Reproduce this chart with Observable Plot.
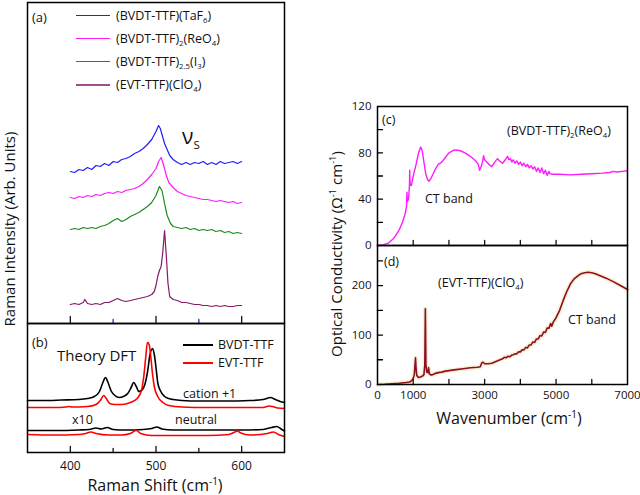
<!DOCTYPE html>
<html>
<head>
<meta charset="utf-8">
<script src="https://cdn.jsdelivr.net/npm/d3@7"></script>
<script src="https://cdn.jsdelivr.net/npm/@observablehq/plot@0.6"></script>
<style>
  body { margin: 0; background: #fff; }
  #fig { position: relative; width: 640px; height: 495px; background: #fff; font-family: "Open Sans", sans-serif; color: #111; overflow: hidden; }
  .pl { position: absolute; }
  .t { position: absolute; white-space: nowrap; line-height: 1; transform: translateY(-50%); }
  .rot { position: absolute; white-space: nowrap; line-height: 1; transform: translate(-50%, -50%) rotate(-90deg); }
  .ctr { position: absolute; white-space: nowrap; line-height: 1; transform: translate(-50%, -50%); }
  sub, sup { font-size: 0.62em; line-height: 0; position: relative; vertical-align: baseline; }
  sub { top: 0.35em; }
  sup { top: -0.6em; }
  .lline { position: absolute; height: 0; border-top-style: solid; }
</style>
</head>
<body>
<div id="fig"></div>
<script>
// ---------- Panel (a): Raman spectra (arbitrary units, stacked) ----------
const bvdtTaF6 = [[400,152],[405,151],[410,154],[415,153],[420,156],[425,154],[430,158],[435,157],[440,160],[445,158],[450,162],[455,161],[460,164],[465,165],[470,167],[475,170],[480,172],[485,175],[490,179],[495,184],[500,192],[503,198],[505,195],[508,186],[510,180],[513,174],[516,168],[520,164],[525,161],[530,159],[535,161],[540,159],[545,161],[550,160],[555,162],[560,159],[565,161],[570,159],[575,162],[580,160],[585,161],[590,162],[595,160],[600,162]];
const bvdtReO4 = [[400,126],[405,125],[410,127],[415,126],[420,128],[425,127],[430,129],[435,128],[440,130],[445,131],[450,130],[455,132],[460,131],[465,133],[470,134],[475,135],[480,137],[485,140],[490,144],[495,149],[500,155],[503,162],[506,166],[509,158],[512,148],[515,141],[520,136],[525,132],[530,130],[535,128],[540,127],[545,126],[550,125],[555,124],[560,124],[565,123],[570,122],[575,123],[580,122],[585,121],[590,122],[595,120],[600,121]];
const bvdtI3 = [[400,94],[405,95],[410,94],[415,96],[420,95],[425,96],[430,95],[435,97],[440,98],[445,100],[450,103],[455,105],[460,102],[465,104],[470,107],[475,109],[480,111],[485,114],[490,117],[495,121],[500,128],[504,137],[507,133],[510,120],[513,108],[517,100],[520,97],[525,96],[530,95],[535,96],[540,94],[545,95],[550,93],[555,94],[560,93],[565,94],[570,92],[575,93],[580,91],[585,92],[590,90],[595,91],[600,90]];
const evtClO4 = [[400,19],[405,20],[410,19],[415,21],[417,24],[420,20],[425,19],[430,20],[435,19],[440,21],[445,21],[450,23],[455,25],[460,23],[465,22],[470,23],[475,24],[480,25],[485,26],[490,27],[495,29],[498,32],[500,38],[502,47],[504,53],[506,57],[508,72],[510,93],[512,68],[514,40],[516,27],[520,24],[525,23],[530,21],[535,21],[540,20],[545,19],[550,19],[555,18],[560,18],[565,17],[570,18],[575,17],[580,18],[585,17],[590,17],[595,18],[600,18]];

// ---------- Panel (b): DFT Raman (arbitrary units, stacked) ----------
const bvdtCation = [[350,52],[370,52],[390,52.5],[410,53],[420,54],[428,56],[434,61],[438,70],[441,75],[444,70],[448,61],[452,57],[457,55],[462,56],[467,59],[471,65],[474,70],[477,66],[480,61],[483,62],[487,68],[490,80],[493,98],[496,104],[498,98],[500,85],[502,70],[505,62],[510,56],[515,54],[520,53],[530,52],[550,51.5],[580,51.5],[610,52],[625,53],[631,54.5],[634,55],[638,53.5],[645,51],[650,50]];
const evtCation = [[350,45],[380,45],[395,45.5],[398,46],[402,45.5],[420,46],[430,48],[435,52],[439,57],[442,54],[446,49],[452,48],[460,48],[470,50],[478,54],[483,62],[486,78],[488,95],[490,110],[492,108],[494,95],[496,78],[498,66],[502,56],[508,50],[515,47],[530,45.5],[560,45],[600,45],[625,45],[632,46.5],[636,46],[642,44.5],[650,44]];
const bvdtNeutral = [[350,22],[380,22],[410,22.5],[422,23],[430,24.5],[436,23.5],[443,25],[450,23],[465,22.5],[485,23],[495,24],[501,25.5],[507,23.5],[520,22.5],[560,22.5],[600,22.5],[625,23],[635,25],[641,26],[646,23.5],[650,21.5]];
const evtNeutral = [[350,18],[380,17.5],[410,18],[418,19],[424,20.5],[430,19],[445,17.5],[460,17.5],[470,19],[477,22],[482,19],[495,17],[520,17],[560,17],[585,18],[592,20.5],[595,21.5],[599,19.5],[610,17.5],[630,19],[637,20.5],[643,18],[650,16]];

// ---------- Panel (c): optical conductivity (BVDT-TTF)2(ReO4) ----------
const condReO4 = [[0,0],[150,0.5],[300,2],[450,6],[600,13],[700,20],[780,28],[812,34],[825,46],[838,38],[870,40],[895,52],[902,65],[915,52],[950,52],[1000,60],[1080,70],[1150,80],[1210,85],[1250,82],[1300,72],[1350,62],[1400,57],[1440,55.5],[1500,58],[1560,62],[1620,66],[1700,70],[1800,72],[1900,76],[2000,80],[2150,82.5],[2300,82],[2450,80],[2600,77],[2750,73],[2820,70],[2860,65],[2900,68],[2940,72],[2970,77.5],[3000,74],[3060,72],[3120,70],[3200,68],[3280,72],[3360,75],[3420,73],[3500,71],[3580,74],[3640,77],[3680,74],[3720,75],[3760,72],[3800,74],[3850,71],[3900,73],[3950,70],[4000,72],[4050,69],[4100,71],[4150,68],[4200,70],[4250,67],[4300,69],[4350,66],[4400,68],[4450,64],[4500,67],[4550,63],[4600,67],[4650,62],[4700,65],[4750,60.5],[4800,64],[4830,62],[4900,61.5],[5100,61.5],[5400,61],[5700,61.5],[6000,62],[6300,62.5],[6500,63],[6600,64],[6700,63.5],[6850,64],[7000,64.5]];

// ---------- Panel (d): optical conductivity (EVT-TTF)(ClO4) ----------
const condClO4 = [[0,0],[200,0.5],[400,1.5],[600,2.5],[800,4],[900,5],[960,8],[1000,12],[1030,20],[1050,40],[1064,54],[1080,32],[1100,18],[1150,14],[1200,15],[1260,17],[1300,20],[1325,40],[1340,153],[1355,40],[1380,25],[1410,24],[1430,34],[1450,22],[1500,19],[1550,20],[1600,22],[1700,24],[1800,25],[1900,27],[2000,28],[2200,30],[2400,32],[2600,34],[2800,35],[2880,36],[2920,44],[2960,45],[3000,42],[3100,42],[3200,43],[3300,46],[3400,49],[3500,52],[3550,55],[3600,54],[3650,57],[3700,56],[3750,59],[3800,60],[3850,62],[3900,62],[3950,66],[4000,66],[4050,70],[4100,70],[4150,75],[4200,74],[4250,80],[4300,80],[4350,86],[4400,85],[4450,92],[4500,92],[4550,99],[4600,98],[4650,106],[4700,105],[4750,114],[4800,114],[4850,123],[4880,118],[4920,126],[5000,135],[5100,150],[5200,170],[5300,188],[5400,203],[5500,213],[5600,219],[5700,224],[5800,226],[5900,227],[6000,226],[6100,224],[6200,221],[6400,215],[6600,208],[6800,200],[7000,192]];

// ---------- Tick values ----------
const ramanTicksMajor = [400, 500, 600];
const ramanTicksMinor = [450, 550];
const ramanTickLabels = [400, 500, 600];
const wnTicks = [1000, 2000, 3000, 4000, 5000, 6000];
const wnTickLabels = [0, 1000, 3000, 5000, 7000];
const cTicks = [20, 40, 60, 80, 100];
const cTickLabels = [0, 40, 80, 120];
const dTicks = [50, 100, 150, 200, 250];
const dTickLabels = [0, 100, 200];

// ---------- helpers ----------
const tickShape = {draw(ctx, l) { ctx.moveTo(0, 0); ctx.lineTo(0, -l); }};
const px = d => d[0], py = d => d[1];
const plain = d => String(d);
const baseStyle = {background: "transparent", overflow: "visible", fontFamily: "Open Sans, sans-serif", fontSize: "11px", color: "#111"};
const fig = document.getElementById("fig");
function place(svg, left, top) {
  const div = document.createElement("div");
  div.className = "pl";
  div.style.left = left + "px";
  div.style.top = top + "px";
  div.appendChild(svg);
  fig.appendChild(div);
}
const xTicksUp = (vals, len, color) => Plot.vector(vals, {x: d => d, frameAnchor: "bottom", length: len, rotate: 0, anchor: "start", shape: tickShape, stroke: color, strokeWidth: 1.3});
const yTicksRight = (vals, len) => Plot.vector(vals, {y: d => d, frameAnchor: "left", length: len, rotate: 90, anchor: "start", shape: tickShape, stroke: "black", strokeWidth: 1.3});

// Panel (a)
place(Plot.plot({
  width: 290, height: 330, marginLeft: 27, marginRight: 6, marginTop: 2, marginBottom: 7,
  x: {domain: [350, 650], axis: null},
  y: {domain: [0, 321], axis: null},
  style: baseStyle,
  marks: [
    Plot.line(bvdtTaF6, {x: px, y: py, stroke: "#1f1fff", strokeWidth: 1.2}),
    Plot.line(bvdtReO4, {x: px, y: py, stroke: "#ff1aff", strokeWidth: 1.2}),
    Plot.line(bvdtI3, {x: px, y: py, stroke: "#1d8a1d", strokeWidth: 1.2}),
    Plot.line(evtClO4, {x: px, y: py, stroke: "#85186a", strokeWidth: 1.2}),
    xTicksUp(ramanTicksMajor, 7, "#111"),
    xTicksUp(ramanTicksMinor, 4, "#2233cc"),
    Plot.frame({stroke: "black", strokeWidth: 1.5})
  ]
}), 0, 0);

// Panel (b)
place(Plot.plot({
  width: 290, height: 180, marginLeft: 27, marginRight: 6, marginTop: 13, marginBottom: 38,
  x: {domain: [350, 650], axis: null},
  y: {domain: [0, 129], axis: null},
  style: baseStyle,
  marks: [
    Plot.line(bvdtCation, {x: px, y: py, stroke: "black", strokeWidth: 1.6, curve: "monotone-x"}),
    Plot.line(evtCation, {x: px, y: py, stroke: "#ff0000", strokeWidth: 1.6, curve: "monotone-x"}),
    Plot.line(bvdtNeutral, {x: px, y: py, stroke: "black", strokeWidth: 1.6, curve: "monotone-x"}),
    Plot.line(evtNeutral, {x: px, y: py, stroke: "#ff0000", strokeWidth: 1.6, curve: "monotone-x"}),
    xTicksUp(ramanTicksMajor, 6, "#111"),
    xTicksUp(ramanTicksMinor, 4, "#111"),
    Plot.axisX(ramanTickLabels, {tickSize: 0, tickPadding: 9, label: null, fontSize: 12, tickFormat: plain}),
    Plot.frame({stroke: "black", strokeWidth: 1.5})
  ]
}), 0, 310);

// Panel (c)
place(Plot.plot({
  width: 310, height: 160, marginLeft: 47, marginRight: 13, marginTop: 16, marginBottom: 5,
  x: {domain: [0, 7000], axis: null},
  y: {domain: [0, 120], axis: null},
  style: baseStyle,
  marks: [
    Plot.line(condReO4, {x: px, y: py, stroke: "#ff1aff", strokeWidth: 1.4}),
    xTicksUp(wnTicks, 5, "#111"),
    yTicksRight(cTicks, 5),
    Plot.axisY(cTickLabels, {tickSize: 0, tickPadding: 6, label: null, fontSize: 11.5, tickFormat: plain}),
    Plot.frame({stroke: "black", strokeWidth: 1.5})
  ]
}), 330, 90);

// Panel (d)
place(Plot.plot({
  width: 310, height: 200, marginLeft: 47, marginRight: 13, marginTop: 15, marginBottom: 46,
  x: {domain: [0, 7000], axis: null},
  y: {domain: [0, 281], axis: null},
  style: baseStyle,
  marks: [
    Plot.line(condClO4, {x: px, y: py, stroke: "#f4ecc4", strokeWidth: 4.5, strokeOpacity: 0.8}),
    Plot.line(condClO4, {x: px, y: py, stroke: "#8e0f25", strokeWidth: 1.6}),
    xTicksUp(wnTicks, 5, "#111"),
    yTicksRight(dTicks, 5),
    Plot.axisY(dTickLabels, {tickSize: 0, tickPadding: 6, label: null, fontSize: 11.5, tickFormat: plain}),
    Plot.axisX(wnTickLabels, {tickSize: 0, tickPadding: 6, label: null, fontSize: 11.5, tickFormat: plain}),
    Plot.frame({stroke: "black", strokeWidth: 1.5})
  ]
}), 330, 230);

// ---------- Text annotations ----------
const texts = [
  ["t", 32, 17, 13, "(a)"],
  ["t", 32, 342, 13, "(b)"],
  ["t", 57, 355, 15, "Theory DFT"],
  ["t", 183, 394, 12.5, "cation +1"],
  ["t", 72, 420, 12.5, "x10"],
  ["t", 175, 420, 12.5, "neutral"],
  ["t", 182, 136, 21, "&nu;<span style=\"font-size:0.55em;position:relative;top:0.45em\">S</span>"],
  ["t", 382, 120, 12.5, "(c)"],
  ["t", 507, 131, 12.5, "(BVDT-TTF)<sub>2</sub>(ReO<sub>4</sub>)"],
  ["t", 425, 199, 12.5, "CT band"],
  ["t", 384, 262, 12.5, "(d)"],
  ["t", 438, 283, 12.5, "(EVT-TTF)(ClO<sub>4</sub>)"],
  ["t", 568, 320, 12.5, "CT band"],
  ["ctr", 155, 485, 16, "Raman Shift (cm<sup>-1</sup>)"],
  ["ctr", 509, 418, 16, "Wavenumber (cm<sup>-1</sup>)"],
  ["rot", 9, 229, 15, "Raman Intensity (Arb. Units)"],
  ["rot", 336, 254, 15, "Optical Conductivity (&Omega;<sup>-1</sup> cm<sup>-1</sup>)"],
  // legend labels
  ["t", 116, 16, 12.5, "(BVDT-TTF)(TaF<sub>6</sub>)"],
  ["t", 116, 39, 12.5, "(BVDT-TTF)<sub>2</sub>(ReO<sub>4</sub>)"],
  ["t", 116, 62, 12.5, "(BVDT-TTF)<sub>2.5</sub>(I<sub>3</sub>)"],
  ["t", 116, 85, 12.5, "(EVT-TTF)(ClO<sub>4</sub>)"],
  ["t", 218, 345, 12.5, "BVDT-TTF"],
  ["t", 218, 363, 12.5, "EVT-TTF"]
];
for (const [cls, x, y, fs, html] of texts) {
  const d = document.createElement("div");
  d.className = cls;
  d.style.left = x + "px";
  d.style.top = y + "px";
  d.style.fontSize = fs + "px";
  d.innerHTML = html;
  fig.appendChild(d);
}

// ---------- Legend line samples ----------
const legendLines = [
  [76, 16, 34, 1.6, "#1f1fff"],
  [76, 39, 34, 1.6, "#ff1aff"],
  [76, 62, 34, 1.6, "#1d8a1d"],
  [76, 85, 34, 2.2, "#a04d88"],
  [183, 345, 30, 2, "#000000"],
  [183, 363, 30, 2, "#ff0000"]
];
for (const [x, y, w, sw, c] of legendLines) {
  const d = document.createElement("div");
  d.className = "lline";
  d.style.left = x + "px";
  d.style.top = (y - sw / 2) + "px";
  d.style.width = w + "px";
  d.style.borderTopWidth = sw + "px";
  d.style.borderTopColor = c;
  fig.appendChild(d);
}
</script>
</body>
</html>
